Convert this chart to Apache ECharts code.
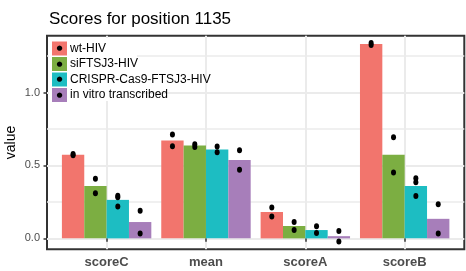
<!DOCTYPE html>
<html>
<head>
<meta charset="utf-8">
<script src="https://cdn.jsdelivr.net/npm/echarts@6/dist/echarts.min.js"></script>
<style>
html, body { margin: 0; padding: 0; background: #fff; }
#chart { width: 466px; height: 271px; }
</style>
</head>
<body>
<div id="chart"></div>
<script>
var categories = ['scoreC', 'mean', 'scoreA', 'scoreB'];
var groups = ['wt-HIV', 'siFTSJ3-HIV', 'CRISPR-Cas9-FTSJ3-HIV', 'in vitro transcribed'];
var colors = ['#F2756D', '#7CAE42', '#1DBDC2', '#A77EBA'];

// bar heights (means)
var wtHiv = [0.574, 0.671, 0.181, 1.333];
var siFtsj3 = [0.36, 0.637, 0.085, 0.574];
var crispr = [0.264, 0.609, 0.057, 0.36];
var inVitro = [0.112, 0.538, 0.015, 0.134];

// replicate points, one list per category
var wtHivPts = [[0.578, 0.57], [0.712, 0.632], [0.212, 0.15], [1.34, 1.326]];
var siFtsj3Pts = [[0.409, 0.31], [0.645, 0.626], [0.112, 0.058], [0.694, 0.452]];
var crisprPts = [[0.292, 0.282, 0.218], [0.63, 0.59], [0.083, 0.037], [0.412, 0.385, 0.29]];
var inVitroPts = [[0.19, 0.034], [0.604, 0.47], [0.05, -0.022], [0.234, 0.034]];

var yMajor = [0, 0.5, 1];
var yMinor = [0.25, 0.75, 1.25];
var xTicks = [1, 2, 3, 4];

var means = [wtHiv, siFtsj3, crispr, inVitro];
var points = [wtHivPts, siFtsj3Pts, crisprPts, inVitroPts];
var dodge = 0.225;
var font = 'Liberation Sans, Arial, sans-serif';

var myChart = echarts.init(document.getElementById('chart'));

var series = [];
for (var i = 0; i < groups.length; i++) {
	series.push({
		type: 'bar',
		name: groups[i],
		barWidth: '22.5%',
		barGap: '0%',
		itemStyle: { color: colors[i] },
		data: means[i].map(function (v, j) { return [j + 1, v]; })
	});
}
for (var i = 0; i < groups.length; i++) {
	var pts = [];
	for (var j = 0; j < categories.length; j++) {
		points[i][j].forEach(function (v) {
			pts.push([j + 1 + (i - 1.5) * dodge, v]);
		});
	}
	series.push({
		type: 'scatter',
		name: 'pts' + i,
		symbolSize: [5, 6],
		itemStyle: { color: '#000', opacity: 1 },
		z: 5,
		data: pts
	});
}

var rich = {
	t: { fontSize: 12, color: '#000', fontFamily: font, padding: [0, 0, 0, 3] }
};
colors.forEach(function (c, i) {
	rich['k' + i] = {
		width: 15, height: 14, lineHeight: 14, align: 'center',
		backgroundColor: c, color: '#000', fontSize: 7, fontFamily: 'DejaVu Sans'
	};
});

var option = {
	animation: false,
	title: {
		text: 'Scores for position 1135',
		left: 44,
		top: 6,
		textStyle: { fontSize: 17, fontWeight: 'normal', color: '#000', fontFamily: font }
	},
	graphic: [{
		type: 'rect', left: 49, top: 38, z: 1,
		shape: { width: 88, height: 63 },
		style: { fill: '#fff' }
	}],
	legend: {
		data: groups,
		orient: 'vertical',
		left: 47,
		top: 41.5,
		padding: 0,
		itemGap: 1.5,
		itemWidth: 0,
		itemHeight: 14,
		icon: 'none',
		formatter: function (name) {
			return '{k' + groups.indexOf(name) + '|●}{t|' + name + '}';
		},
		textStyle: { rich: rich }
	},
	grid: {
		left: 47, right: 1.7, top: 35.7, bottom: 21.7,
		outerBoundsMode: 'none',
		containLabel: false,
		show: true, borderColor: '#333', borderWidth: 2
	},
	xAxis: {
		type: 'value',
		min: 0.4,
		max: 4.6,
		axisLine: { show: false },
		axisTick: { show: true, customValues: xTicks, length: 3.5, lineStyle: { color: '#333', width: 1.5 } },
		axisLabel: {
			customValues: xTicks,
			margin: 7,
			fontSize: 13, fontWeight: 'bold', color: '#4d4d4d', fontFamily: font,
			formatter: function (v) { return categories[Math.round(v) - 1]; }
		},
		splitLine: { show: true, lineStyle: { color: '#ebebeb', width: 2 } }
	},
	yAxis: [{
		type: 'value',
		min: -0.075,
		max: 1.39,
		name: 'value',
		nameLocation: 'middle',
		nameGap: 29,
		nameMoveOverlap: false,
		nameTextStyle: { fontSize: 14, color: '#000', fontFamily: font },
		axisLine: { show: false },
		axisTick: { show: true, customValues: yMajor, length: 3.5, lineStyle: { color: '#333', width: 1.5 } },
		axisLabel: {
			customValues: yMajor,
			margin: 7,
			fontSize: 11, color: '#4d4d4d', fontFamily: font,
			formatter: function (v) { return v.toFixed(1); }
		},
		splitLine: { show: true, lineStyle: { color: '#ebebeb', width: 2 } }
	}, {
		type: 'value',
		min: -0.075,
		max: 1.39,
		position: 'left',
		axisLine: { show: false },
		axisTick: { show: false, customValues: yMinor },
		axisLabel: { show: false },
		splitLine: { show: true, lineStyle: { color: '#ebebeb', width: 1.5 } }
	}],
	series: series
};
myChart.setOption(option, true);
</script>
</body>
</html>
